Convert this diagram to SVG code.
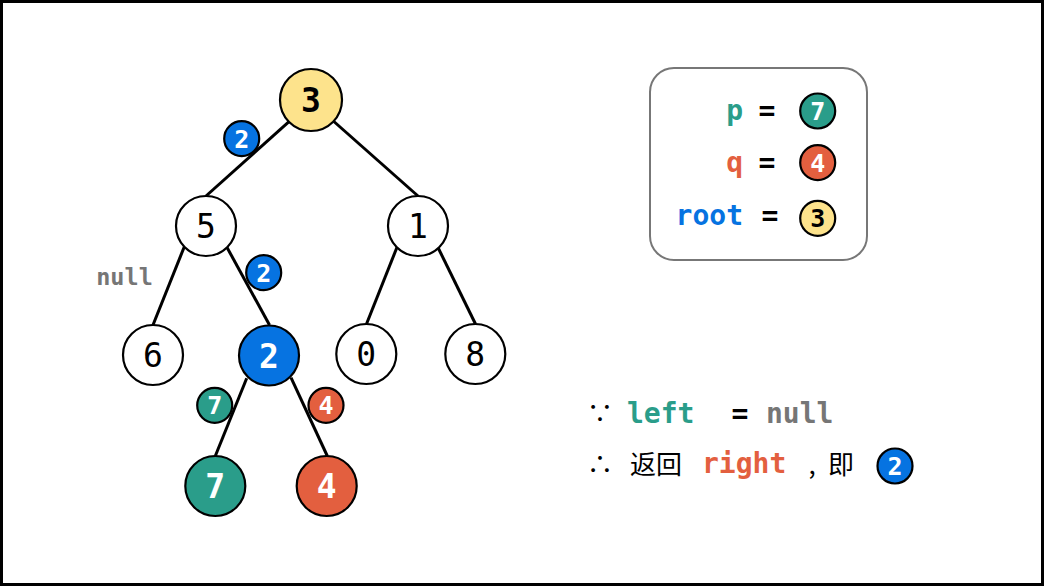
<svg xmlns="http://www.w3.org/2000/svg" width="1044" height="586" viewBox="0 0 1044 586">
<style>
.n{stroke:#000;stroke-width:2.2}
.w{fill:#fff}
.y{fill:#FDE38C}
.b{fill:#0673E1}
.t{fill:#2A9D8A}
.r{fill:#E35F3F}
.e{stroke:#000;stroke-width:3;fill:none}
.d{font-family:"DejaVu Sans Mono","Liberation Mono",monospace;text-anchor:middle}
.big{font-size:33px}
.bw{font-weight:bold;fill:#fff}
.sm{font-size:25px;font-weight:bold;fill:#fff}
.m{font-family:"DejaVu Sans Mono","Liberation Mono",monospace;font-weight:bold;font-size:28px}
.cjk{font-family:"Noto Sans CJK SC","Noto Sans",sans-serif;font-size:26px;fill:#000}
</style>
<rect x="0" y="0" width="1044" height="586" fill="#fff"/>
<rect x="1.5" y="1.5" width="1041" height="583" fill="none" stroke="#000" stroke-width="3"/>
<g id="edges">
<line class="e" x1="289" y1="121.7" x2="206" y2="196"/>
<line class="e" x1="333.3" y1="121" x2="418" y2="196"/>
<line class="e" x1="184.6" y1="246" x2="153" y2="325"/>
<line class="e" x1="226.5" y1="246.5" x2="269.5" y2="325"/>
<line class="e" x1="397.3" y1="246.5" x2="366.5" y2="324"/>
<line class="e" x1="438" y1="247.5" x2="475.5" y2="324"/>
<line class="e" x1="246.7" y1="378.3" x2="215.3" y2="456"/>
<line class="e" x1="291" y1="377.7" x2="327.3" y2="456"/>
</g>
<g id="node-3"><circle class="n y" cx="311" cy="100" r="31"/><text class="d big" x="311" y="112" font-weight="bold">3</text></g>
<g id="node-5"><circle class="n w" cx="206" cy="226" r="30"/><text class="d big" x="206" y="238">5</text></g>
<g id="node-1"><circle class="n w" cx="418" cy="226" r="30"/><text class="d big" x="418" y="238">1</text></g>
<g id="node-6"><circle class="n w" cx="153" cy="355" r="30"/><text class="d big" x="153" y="367">6</text></g>
<g id="node-2"><circle class="n b" cx="269" cy="355.5" r="30"/><text class="d big bw" x="269" y="367.5">2</text></g>
<g id="node-0"><circle class="n w" cx="366.3" cy="354" r="30"/><text class="d big" x="366.3" y="366">0</text></g>
<g id="node-8"><circle class="n w" cx="475.3" cy="354" r="30"/><text class="d big" x="475.3" y="366">8</text></g>
<g id="node-7"><circle class="n t" cx="215.3" cy="486" r="30"/><text class="d big bw" x="215.3" y="498">7</text></g>
<g id="node-4"><circle class="n r" cx="326.7" cy="486" r="30"/><text class="d big bw" x="326.7" y="498">4</text></g>
<g id="badge-2a"><circle class="n b" cx="241.7" cy="138.7" r="17.5"/><text class="d sm" x="241.7" y="147.5">2</text></g>
<g id="badge-2b"><circle class="n b" cx="263.7" cy="272.7" r="17.5"/><text class="d sm" x="263.7" y="281.5">2</text></g>
<g id="badge-7"><circle class="n t" cx="214.7" cy="405.3" r="17.5"/><text class="d sm" x="214.7" y="414.1">7</text></g>
<g id="badge-4"><circle class="n r" cx="326" cy="405.3" r="17.5"/><text class="d sm" x="326" y="414.1">4</text></g>
<g id="null-label"><text x="124.5" y="285" class="d" font-size="23.5" font-weight="bold" fill="#767676">null</text></g>
<g id="legend">
<rect x="650" y="68" width="217" height="192" rx="24" fill="#fff" stroke="#777" stroke-width="2"/>
<text class="m" x="743" y="119.5" text-anchor="end" fill="#2A9D8A">p</text>
<text class="m" x="767" y="119.5" text-anchor="middle" fill="#000">=</text>
<circle class="n t" cx="817.7" cy="111" r="17.5"/><text class="d sm" x="817.7" y="119.8">7</text>
<text class="m" x="743" y="171.5" text-anchor="end" fill="#E35F3F">q</text>
<text class="m" x="767" y="171.5" text-anchor="middle" fill="#000">=</text>
<circle class="n r" cx="817.7" cy="162.7" r="17.5"/><text class="d sm" x="817.7" y="171.5">4</text>
<text class="m" x="743" y="225" text-anchor="end" fill="#0673E1">root</text>
<text class="m" x="770" y="225" text-anchor="middle" fill="#000">=</text>
<circle class="n y" cx="817.7" cy="218.3" r="17.5"/><text class="d sm" x="817.7" y="227.1" style="fill:#000">3</text>
</g>
<g id="conclusion">
<text class="cjk" x="600" y="423" text-anchor="middle">∵</text>
<text class="m" x="627" y="423.3" fill="#2A9D8A">left</text>
<text class="m" x="740" y="423.3" text-anchor="middle" fill="#000">=</text>
<text class="m" x="766" y="423.3" fill="#767676">null</text>
<text class="cjk" x="600" y="474" text-anchor="middle">∴</text>
<text class="cjk" x="630" y="474">返回</text>
<text class="m" x="702" y="473.3" fill="#E35F3F">right</text>
<text class="cjk" x="812" y="474" text-anchor="middle">,</text>
<text class="cjk" x="828" y="474">即</text>
<circle class="n b" cx="895" cy="466" r="17.5"/><text class="d sm" x="895" y="474.8">2</text>
</g>
</svg>
